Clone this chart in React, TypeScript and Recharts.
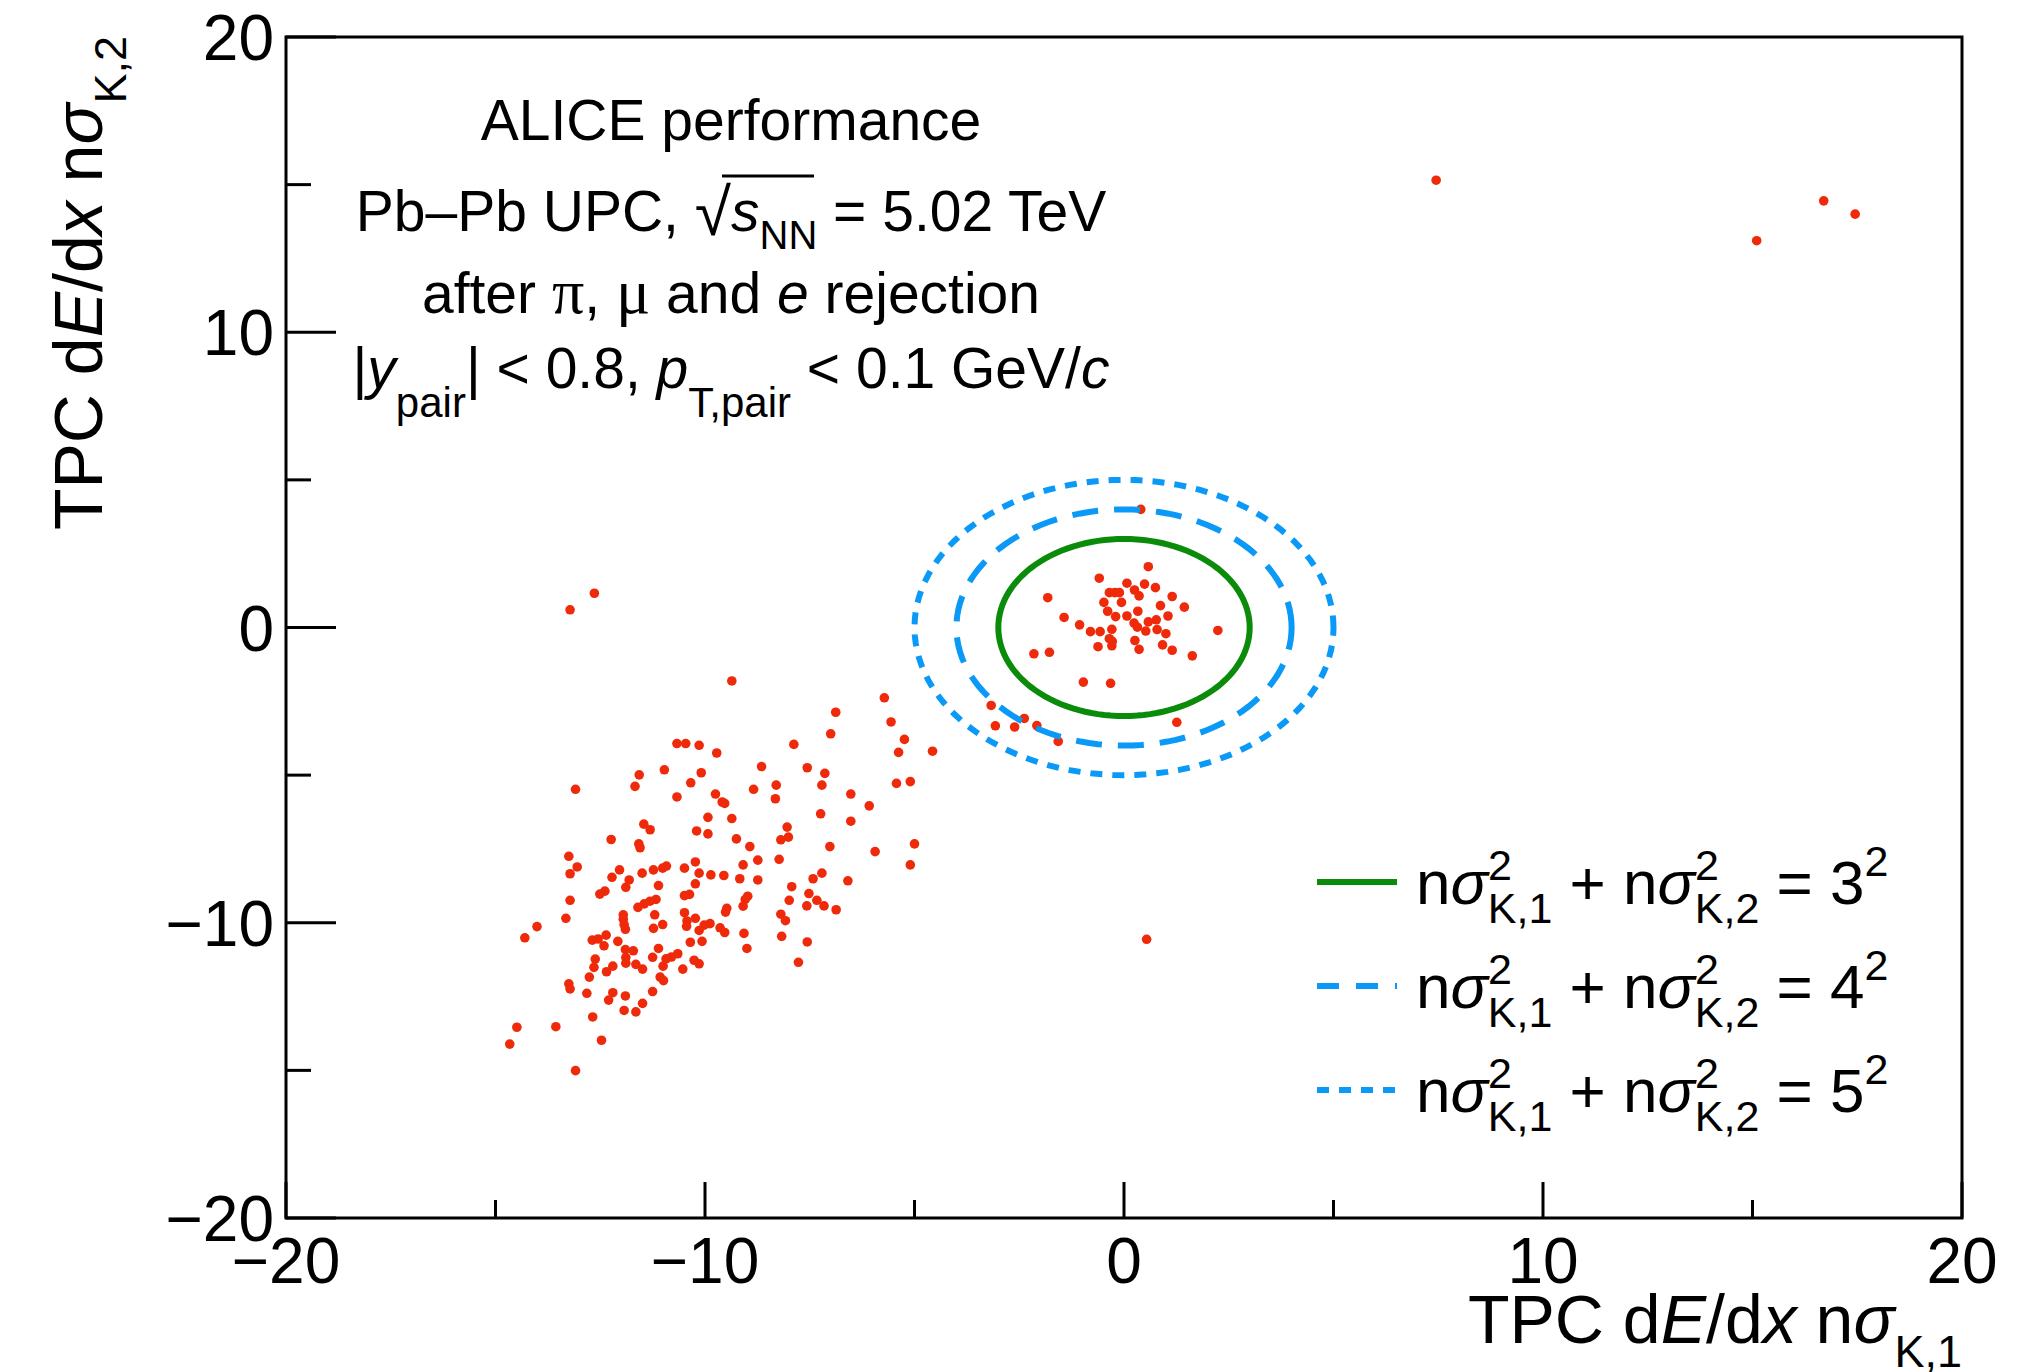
import React from 'react';
import { ScatterChart, Scatter, XAxis, YAxis, ReferenceArea } from 'recharts';

// candidates near the kaon hypothesis (inside / around the circles)
const centralPoints: [number, number][] = [
  [0.4, 4.0], [0.58, 2.06], [-0.59, 1.67], [0.07, 1.5], [0.49, 1.47], [0.25, 1.27],
  [0.75, 1.35], [-0.35, 1.18], [-0.22, 1.18], [-0.11, 1.18], [0.36, 1.07], [-1.82, 1.01],
  [1.15, 1.05], [-0.48, 0.85], [-0.06, 0.85], [0.87, 0.74], [1.44, 0.69], [-0.39, 0.55],
  [0.33, 0.55], [-0.2, 0.37], [0.07, 0.39], [1.05, 0.39], [-1.43, 0.34], [0.77, 0.26],
  [0.58, 0.19], [0.24, 0.15], [-1.06, 0.09], [0.32, 0.01], [-0.29, -0.06], [-0.8, -0.14],
  [-0.57, -0.14], [0.52, -0.12], [0.79, -0.07], [1.0, -0.21], [2.24, -0.1], [-0.35, -0.38],
  [0.26, -0.44], [-0.28, -0.47], [-0.62, -0.65], [-0.29, -0.62], [0.92, -0.59], [0.36, -0.74],
  [1.15, -0.77], [-2.15, -0.89], [-1.78, -0.84], [1.63, -0.96], [-0.97, -1.85], [-0.32, -1.89],
  [1.26, -3.21], [-3.17, -2.64], [-3.07, -3.33], [-2.61, -3.37], [-2.38, -3.08], [-2.08, -3.32],
  [-1.57, -3.86],
];

// diagonal band of non-kaon pairs
const bandPoints: [number, number][] = [
  [-9.36, -1.81], [-5.72, -2.38], [-6.88, -2.87], [-5.56, -3.2], [-7.0, -3.6], [-5.24, -3.79],
  [-10.67, -3.93], [-10.46, -3.93], [-10.14, -3.99], [-7.88, -3.96], [-5.38, -4.23], [-4.57, -4.19],
  [-9.72, -4.25], [-8.65, -4.71], [-7.56, -4.75], [-10.97, -4.82], [-10.09, -4.92], [-7.14, -4.94],
  [-11.57, -4.99], [-10.34, -5.26], [-7.21, -5.34], [-8.3, -5.34], [-5.43, -5.28], [-5.1, -5.22],
  [-13.09, -5.48], [-11.67, -5.38], [-8.84, -5.48], [-9.75, -5.64], [-10.67, -5.74], [-8.32, -5.8],
  [-6.52, -5.64], [-9.59, -5.91], [-9.53, -5.96], [-6.08, -6.04], [-7.24, -6.31], [-9.93, -6.43],
  [-9.36, -6.47], [-6.52, -6.56], [-11.46, -6.66], [-11.31, -6.85], [-8.04, -6.76], [-10.2, -6.89],
  [-9.93, -6.99], [-8.01, -7.1], [-8.19, -7.19], [-12.24, -7.18], [-9.25, -7.16], [-11.58, -7.33],
  [-11.55, -7.46], [-5.0, -7.33], [-8.93, -7.42], [-7.02, -7.42], [-5.94, -7.59], [-13.25, -7.75],
  [-8.23, -7.85], [-8.74, -7.88], [-13.05, -8.11], [-5.1, -8.04], [-10.23, -7.94], [-9.09, -8.04],
  [-13.22, -8.34], [-12.04, -8.21], [-10.49, -8.15], [-11.23, -8.21], [-11.01, -8.15], [-10.92, -8.08],
  [-11.5, -8.32], [-10.14, -8.32], [-9.86, -8.38], [-9.55, -8.4], [-12.22, -8.46], [-11.81, -8.55],
  [-9.17, -8.51], [-8.74, -8.55], [-7.21, -8.32], [-7.42, -8.51], [-6.59, -8.58], [-10.23, -8.68],
  [-11.11, -8.74], [-11.89, -8.8], [-7.93, -8.78], [-12.39, -8.93], [-12.51, -9.03], [-7.52, -9.01],
  [-10.37, -9.04], [-10.49, -9.08], [-8.98, -9.1], [-9.04, -9.21], [-13.22, -9.24], [-7.99, -9.24],
  [-7.33, -9.24], [-11.17, -9.21], [-11.31, -9.27], [-11.45, -9.36], [-11.6, -9.48], [-9.09, -9.44],
  [-7.57, -9.43], [-7.16, -9.43], [-9.48, -9.51], [-9.51, -9.64], [-6.87, -9.56], [-11.95, -9.73],
  [-11.2, -9.73], [-10.49, -9.66], [-13.32, -9.85], [-8.19, -9.71], [-11.95, -9.88], [-10.23, -9.85],
  [-10.43, -9.94], [-8.08, -9.93], [-14.01, -10.13], [-11.93, -10.06], [-11.01, -10.06], [-9.88, -10.03],
  [-10.02, -10.08], [-10.44, -10.12], [-11.9, -10.22], [-11.23, -10.19], [-9.64, -10.17], [-10.14, -10.26],
  [-9.53, -10.33], [-14.3, -10.51], [-9.07, -10.36], [-8.17, -10.46], [-12.69, -10.59], [-12.55, -10.55],
  [-12.36, -10.42], [-12.08, -10.63], [-10.35, -10.66], [-10.07, -10.63], [-7.56, -10.65], [-12.41, -10.78],
  [-11.11, -10.87], [-11.9, -10.91], [-11.71, -10.95], [-9.0, -10.87], [-10.65, -11.05], [-11.25, -11.17],
  [-10.8, -11.16], [-10.93, -11.22], [-12.62, -11.23], [-11.89, -11.18], [-11.89, -11.37], [-10.26, -11.27],
  [-10.14, -11.39], [-11.65, -11.41], [-12.65, -11.51], [-12.2, -11.47], [-11.0, -11.47], [-11.49, -11.57],
  [-10.53, -11.57], [-12.35, -11.66], [-7.77, -11.34], [-12.76, -11.84], [-11.07, -11.84], [-10.99, -11.96],
  [-13.25, -12.07], [-13.22, -12.24], [-12.82, -12.39], [-12.2, -12.37], [-11.9, -12.48], [-11.25, -12.33],
  [-12.3, -12.62], [-11.49, -12.73], [-11.93, -12.97], [-11.65, -13.02], [-12.68, -13.19], [-14.49, -13.54],
  [-13.56, -13.52], [-14.66, -14.11], [-12.47, -13.98], [-13.09, -15.01],
];

const outlierPoints: [number, number][] = [
  [-13.22, 0.6], [-12.64, 1.16], [7.45, 15.15], [15.1, 13.1], [16.7, 14.45], [17.45, 14.0], [0.54, -10.56],
];

const axisTicks = [-20, -15, -10, -5, 0, 5, 10, 15, 20];
const majorTicks = [-20, -10, 0, 10, 20];

// circles n_sigma1^2 + n_sigma2^2 = r^2
const ringRadii = [3, 4, 5];
const ringColors = ['#0a8c0a', '#0a99f7', '#0a99f7'];
const ringDashes = ['', '26 16', '12 10'];
const ringAngles = Array.from({ length: 121 }, (_, i) => (i * 3 * Math.PI) / 180);

const red = '#ee2a0b';
const font = '"Liberation Sans", Arial, Helvetica, sans-serif';
const serif = '"Liberation Serif", serif';

const allPoints = [...centralPoints, ...bandPoints, ...outlierPoints].map(([x, y]) => ({ x, y }));
const rings = ringRadii.map((r) => ringAngles.map((a) => ({ x: r * Math.cos(a), y: r * Math.sin(a) })));

const fmt = (v: number) => (v < 0 ? `\u2212${Math.abs(v)}` : `${v}`);

const XTick = (props: any) => {
  const { x, y, payload } = props;
  const major = majorTicks.includes(payload.value);
  return (
    <g>
      <line x1={x} y1={y} x2={x} y2={y - (major ? 36 : 18)} stroke="#000" strokeWidth={3} />
      {major && (
        <text x={x} y={y + 65} textAnchor="middle" fontSize={64} fontFamily={font} fill="#000">
          {fmt(payload.value)}
        </text>
      )}
    </g>
  );
};

const YTick = (props: any) => {
  const { x, y, payload } = props;
  const major = majorTicks.includes(payload.value);
  return (
    <g>
      <line x1={x} y1={y} x2={x + (major ? 50 : 25)} y2={y} stroke="#000" strokeWidth={3} />
      {major && (
        <text x={x - 12} y={y + 23} textAnchor="end" fontSize={64} fontFamily={font} fill="#000">
          {fmt(payload.value)}
        </text>
      )}
    </g>
  );
};

const Dot = (props: any) => <circle cx={props.cx} cy={props.cy} r={4.8} fill={red} />;
const NoDot = () => <g />;

const LegendRow = ({ y, r, color, dash }: { y: number; r: number; color: string; dash: string }) => (
  <g>
    <line x1={1317} x2={1397} y1={y - 22} y2={y - 22} stroke={color} strokeWidth={6} strokeDasharray={dash || undefined} />
    <text x={1416} y={y} fontSize={62} fontFamily={font} fill="#000">
      n<tspan fontStyle="italic">σ</tspan>
      <tspan fontSize={43} dy={-24}>2</tspan>
      <tspan fontSize={43} dx={-24} dy={43}>K,1</tspan>
      <tspan dy={-19}> + n</tspan>
      <tspan fontStyle="italic">σ</tspan>
      <tspan fontSize={43} dy={-24}>2</tspan>
      <tspan fontSize={43} dx={-24} dy={43}>K,2</tspan>
      <tspan dy={-19}> = {r}</tspan>
      <tspan fontSize={43} dy={-28}>2</tspan>
    </text>
  </g>
);

export default function App() {
  return (
    <div style={{ position: 'absolute', left: 0, top: 0, width: 2018, height: 1372, background: '#fff' }}>
      <ScatterChart width={2018} height={1372} margin={{ top: 37, right: 56, bottom: 54, left: 86 }}>
        <XAxis
          type="number"
          dataKey="x"
          domain={[-20, 20]}
          ticks={axisTicks}
          interval={0}
          height={100}
          tickSize={0}
          tickMargin={0}
          axisLine={false}
          tickLine={false}
          tick={<XTick />}
          allowDataOverflow
        />
        <YAxis
          type="number"
          dataKey="y"
          domain={[-20, 20]}
          ticks={axisTicks}
          interval={0}
          width={200}
          tickSize={0}
          tickMargin={0}
          axisLine={false}
          tickLine={false}
          tick={<YTick />}
          allowDataOverflow
        />
        <ReferenceArea x1={-20} x2={20} y1={-20} y2={20} fill="none" fillOpacity={0} stroke="#000" strokeWidth={3} ifOverflow="visible" />
        <Scatter data={allPoints} shape={<Dot />} isAnimationActive={false} />
        {rings.map((ring, i) => (
          <Scatter
            key={i}
            data={ring}
            shape={<NoDot />}
            line={{ stroke: ringColors[i], strokeWidth: 6, strokeDasharray: ringDashes[i] || undefined }}
            isAnimationActive={false}
          />
        ))}
      </ScatterChart>
      <svg width={2018} height={1372} style={{ position: 'absolute', left: 0, top: 0, pointerEvents: 'none' }}>
        <g fontFamily={font} fill="#000" fontSize={57} textAnchor="middle">
          <text x={731} y={140}>ALICE performance</text>
          <text x={731} y={231}>
            Pb–Pb UPC, <tspan fontSize={66} dy={4}>√</tspan>
            <tspan fontStyle="italic" dy={-4}>s</tspan>
            <tspan fontSize={40} dy={18}>NN</tspan>
            <tspan dy={-18}> = 5.02 TeV</tspan>
          </text>
          <text x={731} y={313}>
            after <tspan fontFamily={serif} fontSize={64}>π</tspan>, <tspan fontFamily={serif} fontSize={64}>μ</tspan> and <tspan fontStyle="italic">e</tspan> rejection
          </text>
          <text x={731} y={388}>
            |<tspan fontStyle="italic">y</tspan>
            <tspan fontSize={42} dy={29}>pair</tspan>
            <tspan dy={-29}>| &lt; 0.8, </tspan>
            <tspan fontStyle="italic">p</tspan>
            <tspan fontSize={42} dy={29}>T,pair</tspan>
            <tspan dy={-29}> &lt; 0.1 GeV/</tspan>
            <tspan fontStyle="italic">c</tspan>
          </text>
        </g>
        <line x1={722} x2={814} y1={176} y2={176} stroke="#000" strokeWidth={3} />
        {ringRadii.map((r, i) => (
          <LegendRow key={r} y={904 + i * 104} r={r} color={ringColors[i]} dash={i === 1 ? '22 17' : ringDashes[i]} />
        ))}
        <text x={1962} y={1343} textAnchor="end" fontSize={68} fontFamily={font} fill="#000">
          TPC d<tspan fontStyle="italic">E</tspan>/d<tspan fontStyle="italic">x</tspan> n<tspan fontStyle="italic">σ</tspan>
          <tspan fontSize={45} dy={24}>K,1</tspan>
        </text>
        <text transform="translate(102,36) rotate(-90)" textAnchor="end" fontSize={68} fontFamily={font} fill="#000">
          TPC d<tspan fontStyle="italic">E</tspan>/d<tspan fontStyle="italic">x</tspan> n<tspan fontStyle="italic">σ</tspan>
          <tspan fontSize={45} dy={24}>K,2</tspan>
        </text>
      </svg>
    </div>
  );
}
